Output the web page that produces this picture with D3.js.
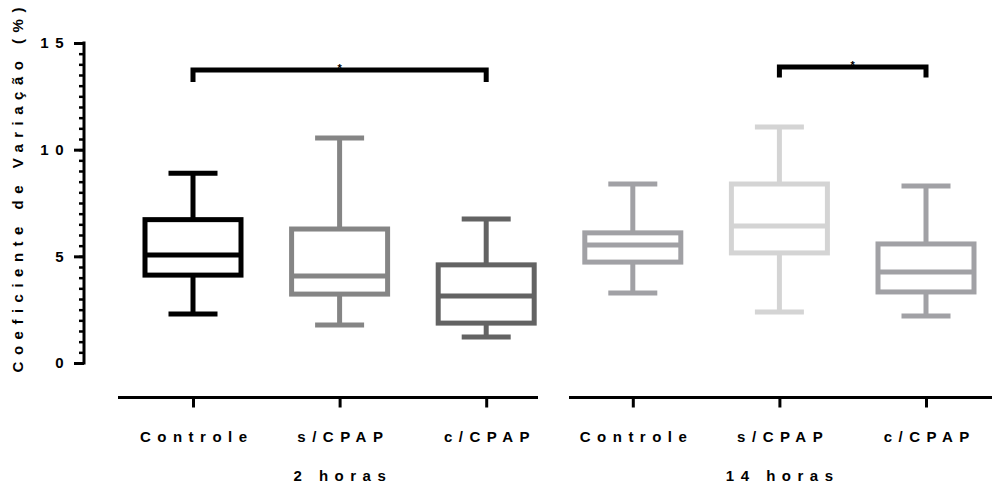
<!DOCTYPE html>
<html>
<head>
<meta charset="utf-8">
<script src="https://cdn.jsdelivr.net/npm/d3@7"></script>
<style>
  body { margin: 0; background: #fff; }
  text { font-family: "Liberation Sans", Arial, sans-serif; font-weight: bold; fill: #000; }
</style>
</head>
<body>
<div id="chart"></div>
<script>
// categories and groups
const groups = ["2 horas", "14 horas"]
const labels = ["Controle", "s/CPAP", "c/CPAP"]
const keys = ["Controle|2", "s/CPAP|2", "c/CPAP|2", "Controle|14", "s/CPAP|14", "c/CPAP|14"]

// box plot values (min, q1, median, q3, max)
const mins    = [2.3, 1.78, 1.22, 3.28, 2.39, 2.2]
const q1s     = [4.12, 3.23, 1.87, 4.73, 5.16, 3.33]
const medians = [5.06, 4.08, 3.14, 5.53, 6.42, 4.27]
const q3s     = [6.72, 6.28, 4.6, 6.1, 8.39, 5.58]
const maxs    = [8.9, 10.55, 6.75, 8.39, 11.06, 8.3]
const colors  = ["#000000", "#858585", "#636363", "#a1a1a5", "#d4d4d4", "#a1a1a5"]

// y ticks
const yMajor = [0, 5, 10, 15]
const yMinor = d3.range(0, 15.01, 0.5)

// significance brackets
const sigFrom = ["Controle|2", "s/CPAP|14"]
const sigTo   = ["c/CPAP|2", "c/CPAP|14"]
const sigBar  = [13.74, 13.88]
const sigLeg  = [13.17, 13.38]

const svgWidth = 992, svgHeight = 488
const ls = 6.5   // letter spacing
const fs = "15px"

const svg = d3.select("#chart").append("svg")
    .attr("width", svgWidth)
    .attr("height", svgHeight)

const y = d3.scaleLinear().domain([0, 15]).range([363, 43])
const x = d3.scalePoint().domain(keys).range([193, 926])

const boxes = keys.map((k, i) => ({
  key: k, min: mins[i], q1: q1s[i], med: medians[i], q3: q3s[i], max: maxs[i], color: colors[i]
}))

// y axis
const axisX = 84
const yAxisG = svg.append("g").attr("transform", `translate(${axisX},0)`)
yAxisG.append("g")
    .call(d3.axisLeft(y).tickValues(yMinor).tickSize(5).tickFormat(""))
    .call(g => g.select(".domain").remove())
    .selectAll("line").attr("stroke", "#000").attr("stroke-width", 2.5)
yAxisG.append("g")
    .call(d3.axisLeft(y).tickValues(yMajor).tickSize(10).tickSizeOuter(0).tickPadding(4))
    .call(g => g.select(".domain").attr("stroke-width", 3).attr("d", `M0,${y(0)+1.5}V${y(15)-1.5}`))
    .call(g => g.selectAll("line").attr("stroke-width", 3))
    .call(g => g.selectAll("text")
        .style("font-size", fs)
        .style("letter-spacing", ls + "px")
        .attr("font-family", null))

// y label
svg.append("text")
    .attr("transform", `translate(23,190) rotate(-90)`)
    .attr("text-anchor", "middle")
    .style("font-size", fs)
    .style("letter-spacing", ls + "px")
    .attr("dx", ls / 2)
    .text("Coeficiente de Variação (%)")

// x axes, one per group
const segs = [[118, 538], [569, 992]]
groups.forEach((grp, gi) => {
  const ks = keys.slice(gi * 3, gi * 3 + 3)
  const g = svg.append("g").attr("transform", "translate(0,397.5)")
  g.call(d3.axisBottom(x).tickValues(ks).tickSize(10).tickSizeOuter(0).tickPadding(24)
        .tickFormat(d => d.split("|")[0]))
  g.select(".domain").attr("stroke-width", 3).attr("d", `M${segs[gi][0]},0H${segs[gi][1]}`)
  g.selectAll(".tick line").attr("stroke-width", 3)
  g.selectAll(".tick text")
      .attr("font-family", null)
      .attr("dx", ls / 2)
      .style("font-size", fs)
      .style("letter-spacing", ls + "px")
  svg.append("text")
      .attr("x", x(ks[1]) + ls / 2)
      .attr("y", 481)
      .attr("text-anchor", "middle")
      .style("font-size", fs)
      .style("letter-spacing", ls + "px")
      .text(grp)
})

// box plots
const boxW = 96, capW = 49, sw = 5
const bp = svg.append("g").attr("fill", "none").attr("stroke-width", sw)
const bg = bp.selectAll("g.box").data(boxes).join("g").attr("class", "box")
    .attr("stroke", d => d.color)
bg.append("line")
    .attr("x1", d => x(d.key)).attr("x2", d => x(d.key))
    .attr("y1", d => y(d.max)).attr("y2", d => y(d.q3))
bg.append("line")
    .attr("x1", d => x(d.key)).attr("x2", d => x(d.key))
    .attr("y1", d => y(d.q1)).attr("y2", d => y(d.min))
bg.append("line")
    .attr("x1", d => x(d.key) - capW / 2).attr("x2", d => x(d.key) + capW / 2)
    .attr("y1", d => y(d.max)).attr("y2", d => y(d.max))
bg.append("line")
    .attr("x1", d => x(d.key) - capW / 2).attr("x2", d => x(d.key) + capW / 2)
    .attr("y1", d => y(d.min)).attr("y2", d => y(d.min))
bg.append("rect")
    .attr("x", d => x(d.key) - boxW / 2)
    .attr("width", boxW)
    .attr("y", d => y(d.q3))
    .attr("height", d => y(d.q1) - y(d.q3))
    .attr("fill", "#fff")
bg.append("line")
    .attr("x1", d => x(d.key) - boxW / 2).attr("x2", d => x(d.key) + boxW / 2)
    .attr("y1", d => y(d.med)).attr("y2", d => y(d.med))

// significance brackets
sigFrom.forEach((f, i) => {
  svg.append("text")
      .attr("x", (x(f) + x(sigTo[i])) / 2)
      .attr("y", y(sigBar[i]) + 2)
      .attr("text-anchor", "middle")
      .style("font-size", "11px")
      .text("*")
  svg.append("path")
      .attr("fill", "none")
      .attr("stroke", "#000")
      .attr("stroke-width", 5)
      .attr("d", `M${x(f)},${y(sigLeg[i])}V${y(sigBar[i])}H${x(sigTo[i])}V${y(sigLeg[i])}`)
})
</script>
</body>
</html>
